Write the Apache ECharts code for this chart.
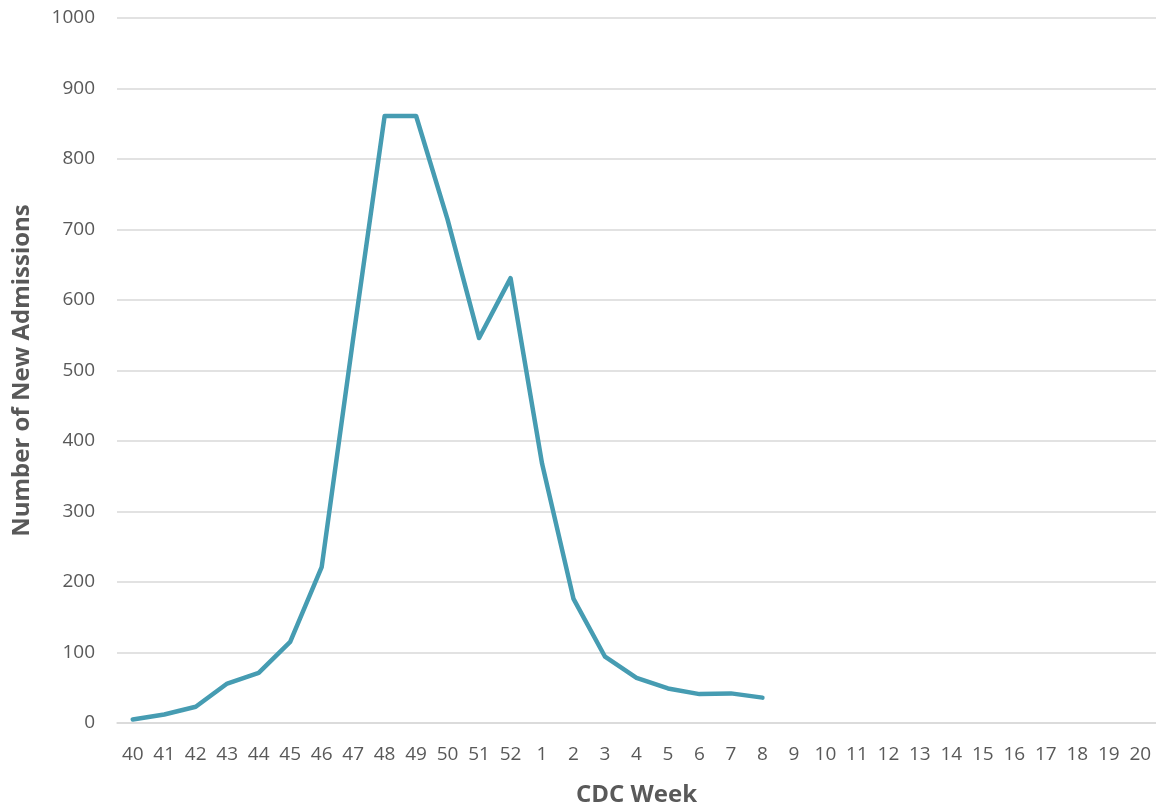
<!DOCTYPE html>
<html>
<head>
<meta charset="utf-8">
<script src="https://cdn.jsdelivr.net/npm/echarts@6/dist/echarts.min.js"></script>
<style>
html,body{margin:0;padding:0;background:#fff;}
#chart{width:1156px;height:812px;}
</style>
</head>
<body>
<div id="chart"></div>
<script>
var weeks = ['40','41','42','43','44','45','46','47','48','49','50','51','52','1','2','3','4','5','6','7','8','9','10','11','12','13','14','15','16','17','18','19','20'];
var admissions = [5, 12, 23, 56, 71, 115, 221, 545, 861, 861, 714, 546, 631, 368, 176, 94, 64, 49, 41, 42, 36];
var yTicks = {min: 0, max: 1000, interval: 100};

var chart = echarts.init(document.getElementById('chart'));
chart.setOption({
  animation: false,
  grid: {left: 117, right: -6, top: 18, bottom: 87},
  xAxis: {
    type: 'category',
    data: weeks,
    boundaryGap: true,
    name: 'CDC Week',
    nameLocation: 'middle',
    nameGap: 60,
    nameTextStyle: {fontFamily: 'Open Sans', fontWeight: 'bold', fontSize: 24, color: '#595959'},
    axisLine: {show: true, lineStyle: {color: '#D9D9D9', width: 1.5}},
    axisTick: {show: false},
    axisLabel: {interval: 0, margin: 22, fontFamily: 'Open Sans', fontSize: 19, color: '#595959'}
  },
  yAxis: {
    type: 'value',
    min: yTicks.min, max: yTicks.max, interval: yTicks.interval,
    name: 'Number of New Admissions',
    nameLocation: 'middle',
    nameGap: 83,
    nameTextStyle: {fontFamily: 'Open Sans', fontWeight: 'bold', fontSize: 24, color: '#595959'},
    axisLine: {show: false},
    axisTick: {show: false},
    axisLabel: {margin: 22, fontFamily: 'Open Sans', fontSize: 19, color: '#595959', formatter: function (v) { return String(v); }},
    splitLine: {lineStyle: {color: '#D9D9D9', width: 1.5}}
  },
  series: [{
    type: 'line',
    data: admissions,
    showSymbol: false,
    symbol: 'none',
    lineStyle: {color: '#469CB2', width: 4.5, cap: 'round', join: 'round'},
    itemStyle: {color: '#469CB2'}
  }]
});
</script>
</body>
</html>
